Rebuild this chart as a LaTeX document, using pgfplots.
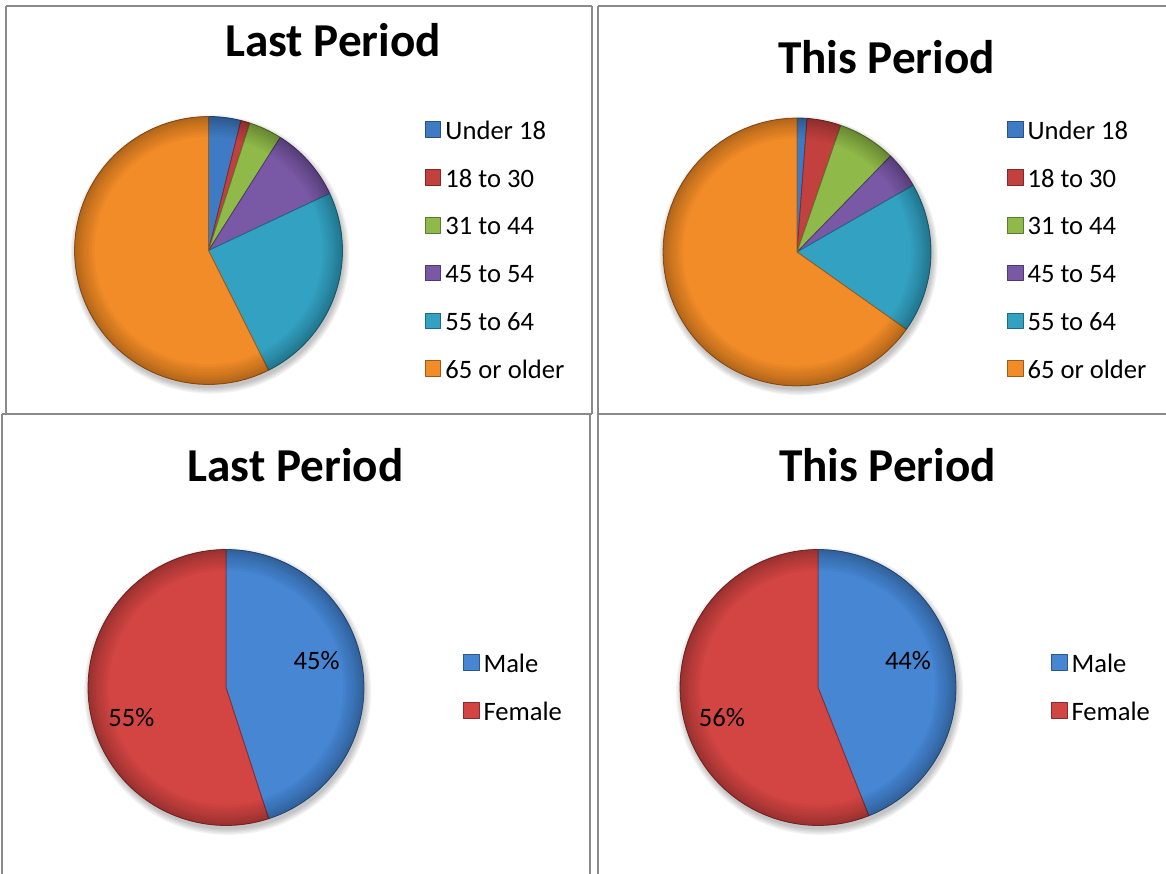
\documentclass[border=0pt]{standalone}
\usepackage{pgfplots}
\usepackage{pgfplotstable}
\pgfplotsset{compat=1.18}
\usepackage{fontspec}
\setmainfont{Carlito}

% slice colours
\definecolor{cU}{HTML}{3F7BC4}
\definecolor{cA}{HTML}{C2413F}
\definecolor{cB}{HTML}{8FB949}
\definecolor{cC}{HTML}{7958A6}
\definecolor{cD}{HTML}{33A2C2}
\definecolor{cE}{HTML}{F28C28}
\definecolor{cM}{HTML}{4686D3}
\definecolor{cF}{HTML}{D24543}
\definecolor{frame}{HTML}{8A8A8A}

% age groups, share in percent
\pgfplotstableread{
group        colour share
{Under 18}    cU    3.9
{18 to 30}    cA    1.1
{31 to 44}    cB    4.0
{45 to 54}    cC    9.0
{55 to 64}    cD   24.6
{65 or older} cE   57.4
}\agelast
\pgfplotstableread{
group        colour share
{Under 18}    cU    1.2
{18 to 30}    cA    4.1
{31 to 44}    cB    7.0
{45 to 54}    cC    4.4
{55 to 64}    cD   18.1
{65 or older} cE   65.2
}\agethis
% gender, share in percent
\pgfplotstableread{
group  colour share
Male   cM     45
Female cF     55
}\sexlast
\pgfplotstableread{
group  colour share
Male   cM     44
Female cF     56
}\sexthis

\tikzset{pct/.style={anchor=base, font=\fontsize{13.3}{16}\selectfont}}
\pgfplotsset{
  slice/.style={fill=#1, draw=#1!65!black, line width=0.4pt, samples=61, line join=round},
  pie/.style={
    hide axis, clip=false, anchor=center,
    xmin=-1, xmax=1, ymin=-1, ymax=1,
    legend cell align=left,
    legend image code/.code={\fill[##1] (0pt,-2.5pt) rectangle (7.75pt,5.25pt);},
    legend style={draw=none, fill=none, inner sep=0pt, outer sep=0pt,
      anchor=north west, row sep=11.9pt,
      font=\fontsize{13.3}{16}\selectfont,
      nodes={inner sep=0pt, text height=9.5pt, text depth=2.5pt},
      /tikz/every odd column/.append style={column sep=2.1pt}},
    title style={font=\fontsize{23.6}{28}\selectfont\bfseries, anchor=base},
  },
}

% draws one pie, clockwise from twelve o'clock, from a table with group/colour/share
\newcommand\drawpie[1]{%
  \pgfplotstablegetrowsof{#1}\pgfmathtruncatemacro\pien{\pgfplotsretval-1}%
  \gdef\piesum{0}%
  \pgfplotsforeachungrouped \i in {0,...,\pien}{%
    \pgfplotstablegetelem{\i}{group}\of{#1}\let\piename\pgfplotsretval
    \pgfplotstablegetelem{\i}{colour}\of{#1}\let\piecol\pgfplotsretval
    \pgfplotstablegetelem{\i}{share}\of{#1}\let\pieval\pgfplotsretval
    \pgfmathsetmacro\piea{3.6*\piesum}%
    \pgfmathsetmacro\pieb{3.6*(\piesum+\pieval)}%
    \edef\piecmd{\noexpand\addplot[slice=\piecol, domain=\piea:\pieb]}%
    \piecmd ({sin(x)},{cos(x)}) -- (axis cs:0,0) -- cycle;
    \edef\piecmd{\noexpand\addlegendentry{\piename}}\piecmd
    \pgfmathsetmacro\piesum{\piesum+\pieval}\global\let\piesum\piesum
  }%
}
% soft shadow below a pie of radius #1
\newcommand\pieshadow[1]{%
  \pgfplotsinvokeforeach{1.0,1.01,1.02,1.03,1.04}{%
    \fill[black, opacity=0.05] (axis cs:0.012,-0.028) circle[radius=##1*#1];}}
% darkened rim on top of a pie of radius #1
\newcommand\pierim[1]{%
  \pgfplotsinvokeforeach{0.85,0.87,0.89,0.91,0.93,0.945,0.96,0.975,0.988}{%
    \fill[black, opacity=0.03, even odd rule] (axis cs:0,0) circle[radius=##1*#1] circle[radius=#1];}}

\begin{document}
\begin{tikzpicture}
\useasboundingbox (0,0) rectangle (583pt,-436.5pt);

% cell frames
\begin{scope}[draw=frame, line width=1pt]
  \draw (3pt,-3pt) -- (296pt,-3pt);
  \draw (3pt,-3pt) -- (3pt,-207pt);
  \draw (296pt,-3pt) -- (296pt,-207pt);
  \draw (1pt,-207pt) -- (296pt,-207pt);
  \draw (1pt,-207pt) -- (1pt,-437pt);
  \draw (295pt,-207pt) -- (295pt,-437pt);
  \draw (299pt,-3pt) -- (584pt,-3pt);
  \draw (299pt,-3pt) -- (299pt,-437pt);
  \draw (299.5pt,-207pt) -- (584pt,-207pt);
\end{scope}

% age, last period
\begin{axis}[pie, at={(104.25pt,-125.25pt)}, x=67pt, y=67pt,
  title={Last Period}, title style={at={(0.9646,1.1783)}},
  legend style={at={(1.3078,0.9858)}}]
  \pieshadow{67pt}
  \drawpie{\agelast}
  \pierim{67pt}
\end{axis}

% age, this period
\begin{axis}[pie, at={(398.5pt,-126pt)}, x=67pt, y=67pt,
  title={This Period}, title style={at={(0.834,1.1231)}},
  legend style={at={(1.2836,0.9914)}}]
  \pieshadow{67pt}
  \drawpie{\agethis}
  \pierim{67pt}
\end{axis}

% gender, last period
\begin{axis}[pie, at={(113pt,-343.75pt)}, x=69pt, y=69pt,
  title={Last Period}, title style={at={(0.7518,1.2047)}},
  legend style={at={(1.3587,0.6243)}}]
  \pieshadow{69pt}
  \drawpie{\sexlast}
  \pierim{69pt}
  \node[pct] at (axis cs:0.657,0.127) {45\%};
  \node[pct] at (axis cs:-0.686,-0.279) {55\%};
\end{axis}

% gender, this period
\begin{axis}[pie, at={(409pt,-343.75pt)}, x=69pt, y=69pt,
  title={This Period}, title style={at={(0.7518,1.2047)}},
  legend style={at={(1.3442,0.6243)}}]
  \pieshadow{69pt}
  \drawpie{\sexthis}
  \pierim{69pt}
  \node[pct] at (axis cs:0.652,0.127) {44\%};
  \node[pct] at (axis cs:-0.696,-0.279) {56\%};
\end{axis}
\end{tikzpicture}
\end{document}
